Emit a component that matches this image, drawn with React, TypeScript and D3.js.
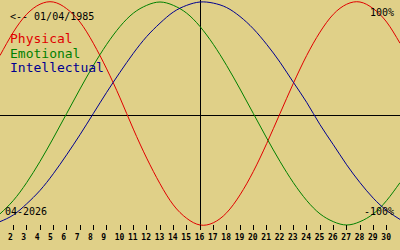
import React from "react";
import * as d3 from "d3";

const days = d3.range(1, 32);
const physical = [0.52, 0.73, 0.89, 0.98, 1.0, 0.94, 0.82, 0.63, 0.4, 0.14, -0.14, -0.4, -0.63, -0.82, -0.94, -1.0, -0.98, -0.89, -0.73, -0.52, -0.27, 0, 0.27, 0.52, 0.73, 0.89, 0.98, 1.0, 0.94, 0.82, 0.63];
const emotional = [-0.9, -0.78, -0.62, -0.43, -0.22, 0, 0.22, 0.43, 0.62, 0.78, 0.9, 0.97, 1.0, 0.97, 0.9, 0.78, 0.62, 0.43, 0.22, 0, -0.22, -0.43, -0.62, -0.78, -0.9, -0.97, -1.0, -0.97, -0.9, -0.78, -0.62];
const intellectual = [-0.97, -0.91, -0.81, -0.69, -0.54, -0.37, -0.19, 0, 0.19, 0.37, 0.54, 0.69, 0.81, 0.91, 0.97, 1.0, 0.99, 0.95, 0.87, 0.76, 0.62, 0.46, 0.28, 0.1, -0.1, -0.28, -0.46, -0.62, -0.76, -0.87, -0.95];
const tickDays = d3.range(2, 31);
const series = [
  { name: "Physical", values: physical, color: "#e00000" },
  { name: "Emotional", values: emotional, color: "#008000" },
  { name: "Intellectual", values: intellectual, color: "#000090" },
];
const birthLabel = "<-- 01/04/1985";
const monthLabel = "04-2026";
const topLabel = "100%";
const bottomLabel = "-100%";
const centerDay = 16;

export default function App() {
  const W = 400, H = 250;
  const x = d3.scaleLinear().domain([1, 31]).range([0, 400]);
  const y = d3.scaleLinear().domain([-1, 1]).range([225, 2]);
  const mono = "'DejaVu Sans Mono', monospace";
  return (
    <svg width={W} height={H} style={{ position: "fixed", left: 0, top: 0, background: "#e0d088" }}>
      <rect width={W} height={H} fill="#e0d088" />
      <line x1={0} x2={W} y1={115} y2={115} stroke="#000" strokeWidth={1} shapeRendering="crispEdges" />
      <line x1={x(centerDay)} x2={x(centerDay)} y1={0} y2={225} stroke="#000" strokeWidth={1} shapeRendering="crispEdges" />
      {series.map((s) => {
        const gen = d3.line<number>().x((_, i) => x(days[i])).y((v) => y(v)).curve(d3.curveNatural);
        return <path key={s.name} d={gen(s.values) || ""} fill="none" stroke={s.color} strokeWidth={1} />;
      })}
      {tickDays.map((d) => (
        <g key={d}>
          <line x1={x(d)} x2={x(d)} y1={225} y2={230} stroke="#000" strokeWidth={1} shapeRendering="crispEdges" />
          <text x={x(d) - 5.3} y={240} fontFamily={mono} fontSize={8} fontWeight="bold" fill="#000">{d}</text>
        </g>
      ))}
      <text x={10} y={20} fontFamily={mono} fontSize={10} fill="#000">{birthLabel}</text>
      {series.map((s, i) => (
        <text key={s.name} x={10} y={43 + i * 14.7} fontFamily={mono} fontSize={13} fill={s.color}>{s.name}</text>
      ))}
      <text x={394} y={15.5} fontFamily={mono} fontSize={10} textAnchor="end" fill="#000">{topLabel}</text>
      <text x={5} y={215} fontFamily={mono} fontSize={10} fill="#000">{monthLabel}</text>
      <text x={394} y={215} fontFamily={mono} fontSize={10} textAnchor="end" fill="#000">{bottomLabel}</text>
    </svg>
  );
}
